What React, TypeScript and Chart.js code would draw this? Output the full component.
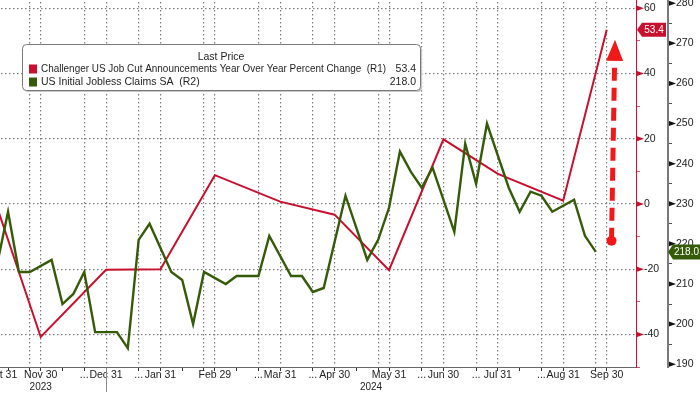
import React, { useEffect, useRef } from 'react';
import { Chart, registerables } from 'chart.js';

Chart.register(...registerables);

// ---------- DATA ----------
// Challenger US Job Cut Announcements, YoY % change (R1) – month-end dates
const monthEnds = [
  '2023-10-31', '2023-11-30', '2023-12-31', '2024-01-31', '2024-02-29', '2024-03-31',
  '2024-04-30', '2024-05-31', '2024-06-30', '2024-07-31', '2024-08-31', '2024-09-30',
];
const jobCutsYoY = [8.8, -40.8, -20.2, -20.0, 8.8, 0.7, -3.3, -20.3, 19.8, 9.2, 1.0, 53.4];

// US Initial Jobless Claims SA, thousands (R2) – weekly (Friday) dates
const weekDates = [
  '2023-10-27', '2023-11-03', '2023-11-10', '2023-11-17', '2023-11-24',
  '2023-12-01', '2023-12-08', '2023-12-15', '2023-12-22', '2023-12-29',
  '2024-01-05', '2024-01-12', '2024-01-19', '2024-01-26',
  '2024-02-02', '2024-02-09', '2024-02-16', '2024-02-23',
  '2024-03-01', '2024-03-08', '2024-03-15', '2024-03-22', '2024-03-29',
  '2024-04-05', '2024-04-12', '2024-04-19', '2024-04-26',
  '2024-05-03', '2024-05-10', '2024-05-17', '2024-05-24', '2024-05-31',
  '2024-06-07', '2024-06-14', '2024-06-21', '2024-06-28',
  '2024-07-05', '2024-07-12', '2024-07-19', '2024-07-26',
  '2024-08-02', '2024-08-09', '2024-08-16', '2024-08-23', '2024-08-30',
  '2024-09-06', '2024-09-13', '2024-09-20',
];
const joblessClaims = [
  218, 215, 228, 213, 213,
  216, 205, 207.5, 213, 198,
  198, 194, 221, 225,
  213, 211, 200, 213,
  210, 212, 212, 212, 222,
  212, 212, 208, 209,
  232, 224, 216, 221, 229,
  243, 238, 234, 239,
  223, 245, 235, 250,
  234, 228, 233, 232, 228,
  231, 222, 218,
];

// Axis tick dates / values
const gridWeeks = [
  '2023-11-24', '2023-12-22', '2024-01-19', '2024-02-23', '2024-03-22', '2024-04-19',
  '2024-05-24', '2024-06-21', '2024-07-19', '2024-08-23', '2024-09-20',
];
const minorWeeks = ['2023-11-10', '2023-12-08', '2024-02-09', '2024-03-08', '2024-05-10', '2024-08-09'];
const yearLabels = ['2023', '2024'];
const r1Ticks = [-50, -40, -30, -20, -10, 0, 10, 20, 30, 40, 50, 60];
const r2Ticks = [190, 195, 200, 205, 210, 215, 220, 225, 230, 235, 240, 245, 250, 255, 260, 265, 270, 275, 280];

const seriesNames = [
  'Challenger US Job Cut Announcements Year Over Year Percent Change  (R1)',
  'US Initial Jobless Claims SA  (R2)',
];

// Arrow annotation (R1 units)
const ARROW_FROM = -11.3;
const ARROW_TO = 50.3;

// ---------- STYLE ----------
const RED = '#c8102e';
const GREEN = '#355a08';
const ARROW = '#f01818';
const GRID = '#7c7c7c';
const TEXT = '#222222';
const AXIS_X = '#666666';
const AXIS_R2 = '#7a7a7a';
const FONT = '"Liberation Sans", Arial, sans-serif';
const NONE = 'rgba(0,0,0,0)';

const X_MIN = 2.26;
const X_MAX = 60.69;

const MONTHS = ['Jan', 'Feb', 'Mar', 'Apr', 'May', 'Jun', 'Jul', 'Aug', 'Sep', 'Oct', 'Nov', 'Dec'];
const slots = Array.from(new Set([...monthEnds, ...weekDates])).sort();
const slotIndex = (d: string) => slots.indexOf(d);
const fmt = (d: string) => `${MONTHS[parseInt(d.slice(5, 7), 10) - 1]} ${parseInt(d.slice(8, 10), 10)}`;

type XT = { value: number; lbl: string; kind: string };
function buildXTicks(): XT[] {
  const monthIdx = monthEnds.map(slotIndex);
  const out: XT[] = [];
  monthEnds.forEach((d) => out.push({ value: slotIndex(d), lbl: fmt(d), kind: 'month' }));
  gridWeeks.forEach((d) => {
    const v = slotIndex(d);
    const next = Math.min(...monthIdx.filter((m) => m >= v));
    out.push({ value: v, lbl: next - v >= 2 ? '...' : '', kind: 'week' });
  });
  minorWeeks.forEach((d) => out.push({ value: slotIndex(d), lbl: '', kind: 'minor' }));
  out.push({ value: X_MAX, lbl: '', kind: 'edge' });
  out.sort((a, b) => a.value - b.value);
  return out;
}

function tagPath(ctx: CanvasRenderingContext2D, left: number, right: number, y: number, h: number) {
  ctx.beginPath();
  ctx.moveTo(left, y);
  ctx.lineTo(left + 5, y - h / 2);
  ctx.lineTo(right, y - h / 2);
  ctx.lineTo(right, y + h / 2);
  ctx.lineTo(left + 5, y + h / 2);
  ctx.closePath();
}

function tri(ctx: CanvasRenderingContext2D, x: number, y: number, len: number, half: number) {
  ctx.beginPath();
  ctx.moveTo(x, y - half);
  ctx.lineTo(x + len, y);
  ctx.lineTo(x, y + half);
  ctx.closePath();
  ctx.fill();
}

function rect(ctx: CanvasRenderingContext2D, x: number, y: number, w: number, h: number, color: string) {
  ctx.save();
  ctx.fillStyle = color;
  ctx.fillRect(x, y, w, h);
  ctx.restore();
}

const overlayPlugin = {
  id: 'bbgOverlay',
  beforeDatasetsDraw(chart: any) {
    const ctx: CanvasRenderingContext2D = chart.ctx;
    const area = chart.chartArea;
    const xs = chart.scales.x;
    const r1 = chart.scales.y1;
    ctx.save();
    ctx.fillStyle = GRID;
    // horizontal dotted grid at R1 major ticks
    r1Ticks.filter((v) => v % 20 === 0).forEach((v) => {
      const y = Math.round(r1.getPixelForValue(v) - 0.5);
      for (let x = Math.ceil(area.left) + 1; x < area.right - 1; x += 4) ctx.fillRect(x, y, 1.5, 1.2);
    });
    // vertical dotted grid at month-end and weekly grid ticks
    buildXTicks()
      .filter((t) => t.kind === 'month' || t.kind === 'week')
      .forEach((t) => {
        const px = xs.getPixelForValue(t.value);
        if (px < area.left || px > area.right) return;
        const x = Math.round(px - 0.5);
        for (let y = Math.ceil(area.top) + 2; y < area.bottom - 1; y += 4) ctx.fillRect(x, y, 1.2, 1.5);
      });
    ctx.restore();
  },
  afterDatasetsDraw(chart: any) {
    const ctx: CanvasRenderingContext2D = chart.ctx;
    const xs = chart.scales.x;
    const r1 = chart.scales.y1;
    const last = slotIndex(monthEnds[monthEnds.length - 1]);
    const x0 = xs.getPixelForValue(last + 0.44);
    const y0 = r1.getPixelForValue(ARROW_FROM);
    const x1 = xs.getPixelForValue(last + 0.76);
    const y1 = r1.getPixelForValue(ARROW_TO);
    const dx = x1 - x0, dy = y1 - y0;
    const len = Math.hypot(dx, dy);
    const ux = dx / len, uy = dy / len;
    const headLen = 21, headHalf = 8.5;
    const bx = x1 - ux * headLen, by = y1 - uy * headLen;
    ctx.save();
    ctx.strokeStyle = ARROW;
    ctx.fillStyle = ARROW;
    ctx.lineWidth = 5;
    ctx.setLineDash([13, 7]);
    ctx.beginPath();
    ctx.moveTo(x0, y0);
    ctx.lineTo(bx, by);
    ctx.stroke();
    ctx.setLineDash([]);
    ctx.beginPath();
    ctx.arc(x0, y0, 5, 0, Math.PI * 2);
    ctx.fill();
    ctx.beginPath();
    ctx.moveTo(x1, y1);
    ctx.lineTo(bx - uy * headHalf, by + ux * headHalf);
    ctx.lineTo(bx + uy * headHalf, by - ux * headHalf);
    ctx.closePath();
    ctx.fill();
    ctx.restore();
  },
  afterDraw(chart: any) {
    const ctx: CanvasRenderingContext2D = chart.ctx;
    const area = chart.chartArea;
    const xs = chart.scales.x;
    const r1 = chart.scales.y1;
    const r2 = chart.scales.y2;
    ctx.save();
    const top = Math.round(area.top);
    const bottom = Math.round(area.bottom);

    // x axis line and tick marks
    rect(ctx, Math.round(area.left), bottom, Math.round(area.right - area.left), 1, AXIS_X);
    buildXTicks()
      .filter((t) => t.kind !== 'edge')
      .forEach((t) => {
        const px = xs.getPixelForValue(t.value);
        if (px < area.left || px > area.right) return;
        rect(ctx, Math.round(px - 0.5), bottom + 1, 1, 3, '#333333');
      });

    // R1 axis (red)
    const rx = Math.round(r1.left);
    rect(ctx, rx, top, 1, bottom - top + 1, RED);
    r1Ticks.forEach((v) => {
      const y = r1.getPixelForValue(v);
      if (v % 20 === 0) {
        ctx.fillStyle = RED;
        tri(ctx, rx + 1, y, 7, 2.5);
      } else {
        rect(ctx, rx + 1, Math.round(y - 0.5), 3, 1, 'rgba(200,16,46,0.7)');
      }
    });

    // R2 axis (grey)
    const gx = Math.round(r2.left);
    rect(ctx, gx, top, 2, bottom - top + 1, AXIS_R2);
    r2Ticks.forEach((v) => {
      const y = r2.getPixelForValue(v);
      if (v % 10 === 0) {
        ctx.fillStyle = '#111111';
        tri(ctx, gx + 2, y, 7, 2.5);
      } else {
        rect(ctx, gx + 2, Math.round(y - 0.5), 3, 1, '#555555');
      }
    });

    // year divider and labels
    const divX = Math.round(xs.getPixelForValue(slotIndex('2023-12-31')) - 0.5);
    rect(ctx, divX, bottom + 1, 1, 24, '#8a8a8a');
    ctx.fillStyle = TEXT;
    ctx.font = `10px ${FONT}`;
    ctx.textAlign = 'center';
    ctx.textBaseline = 'middle';
    ctx.fillText(yearLabels[0], xs.getPixelForValue(slotIndex('2023-11-30')), bottom + 20);
    ctx.fillText(yearLabels[1], (divX + area.right) / 2, bottom + 20);

    // last value tags
    const lastR1 = jobCutsYoY[jobCutsYoY.length - 1];
    const lastR2 = joblessClaims[joblessClaims.length - 1];
    const ty1 = r1.getPixelForValue(lastR1);
    tagPath(ctx, r1.left + 1, r2.left - 1, ty1, 14);
    ctx.fillStyle = RED;
    ctx.fill();
    const ty2 = r2.getPixelForValue(lastR2);
    tagPath(ctx, r2.left + 1, chart.width, ty2, 15);
    ctx.fillStyle = GREEN;
    ctx.fill();
    ctx.fillStyle = '#ffffff';
    ctx.font = `10px ${FONT}`;
    ctx.textAlign = 'center';
    ctx.fillText(lastR1.toFixed(1), (r1.left + 6 + r2.left - 1) / 2, ty1 + 0.5);
    ctx.fillText(lastR2.toFixed(1), (r2.left + 6 + chart.width) / 2, ty2 + 0.5);

    // legend
    const bx = 22.5, by = 44.5, bw = 398, bh = 46;
    ctx.fillStyle = '#c8c8c8';
    ctx.beginPath();
    ctx.roundRect(bx + 1.5, by + 1.5, bw, bh, 4);
    ctx.fill();
    ctx.fillStyle = '#ffffff';
    ctx.strokeStyle = '#7a7a7a';
    ctx.lineWidth = 1;
    ctx.beginPath();
    ctx.roundRect(bx, by, bw, bh, 4);
    ctx.fill();
    ctx.stroke();

    ctx.fillStyle = '#1e1e1e';
    ctx.font = `10.5px ${FONT}`;
    ctx.textAlign = 'center';
    ctx.textBaseline = 'middle';
    ctx.fillText('Last Price', 221, 57);
    const rows = [
      { color: RED, name: seriesNames[0], value: lastR1.toFixed(1), y: 69 },
      { color: GREEN, name: seriesNames[1], value: lastR2.toFixed(1), y: 82 },
    ];
    rows.forEach((r) => {
      ctx.fillStyle = r.color;
      ctx.fillRect(29, r.y - 4.5, 8, 9);
      ctx.fillStyle = '#1e1e1e';
      ctx.textAlign = 'left';
      ctx.fillText(r.name, 41, r.y, 345);
      ctx.textAlign = 'right';
      ctx.fillText(r.value, 416, r.y);
    });
    ctx.restore();
  },
};

export default function App() {
  const ref = useRef<HTMLCanvasElement | null>(null);

  useEffect(() => {
    document.body.style.margin = '0';
    const canvas = ref.current;
    if (!canvas) return;

    const redData = monthEnds.map((d, i) => ({ x: slotIndex(d), y: jobCutsYoY[i] }));
    const greenData = weekDates.map((d, i) => ({ x: slotIndex(d), y: joblessClaims[i] }));
    const tickFont = { family: FONT, size: 10.5 };
    const hiddenGrid = { display: true, drawOnChartArea: false, color: NONE, tickColor: NONE };

    const chart = new Chart(canvas, {
      type: 'line',
      data: {
        datasets: [
          { label: seriesNames[0], data: redData, yAxisID: 'y1', borderColor: RED, borderWidth: 2, pointRadius: 0, tension: 0, order: 2 },
          { label: seriesNames[1], data: greenData, yAxisID: 'y2', borderColor: GREEN, borderWidth: 2.4, pointRadius: 0, tension: 0, order: 1 },
        ],
      },
      options: {
        animation: false,
        responsive: false,
        devicePixelRatio: 1,
        events: [],
        layout: { padding: 0 },
        plugins: { legend: { display: false }, tooltip: { enabled: false } },
        scales: {
          x: {
            type: 'linear',
            min: X_MIN,
            max: X_MAX,
            afterBuildTicks: (axis: any) => { axis.ticks = buildXTicks(); },
            afterFit: (axis: any) => { axis.height = 27; axis.paddingLeft = 0; axis.paddingRight = 0; },
            ticks: {
              autoSkip: false, maxRotation: 0, minRotation: 0, align: 'inner', padding: 0, color: TEXT,
              font: { ...tickFont, lineHeight: 0.9 },
              callback: (_v: any, i: number, ticks: any[]) => (ticks[i] && ticks[i].lbl) || '',
            },
            grid: { ...hiddenGrid, tickLength: 3 },
            border: { display: false },
          },
          y1: {
            type: 'linear', position: 'right', weight: 0, min: -50, max: 62.5,
            afterBuildTicks: (axis: any) => { axis.ticks = r1Ticks.map((v) => ({ value: v })); },
            afterFit: (axis: any) => { axis.width = 31; axis.paddingTop = 0; axis.paddingBottom = 0; },
            ticks: { padding: 1, color: TEXT, font: tickFont, callback: (v: any) => (Number(v) % 20 === 0 ? String(v) : '') },
            grid: { ...hiddenGrid, tickLength: 7 },
            border: { display: false },
          },
          y2: {
            type: 'linear', position: 'right', weight: 1, min: 189.3, max: 280.8,
            afterBuildTicks: (axis: any) => { axis.ticks = r2Ticks.map((v) => ({ value: v })); },
            afterFit: (axis: any) => { axis.width = 33; axis.paddingTop = 0; axis.paddingBottom = 0; },
            ticks: { padding: 1, color: TEXT, font: tickFont, callback: (v: any) => (Number(v) % 10 === 0 ? String(v) : '') },
            grid: { ...hiddenGrid, tickLength: 8 },
            border: { display: false },
          },
        },
      } as any,
      plugins: [overlayPlugin],
    });

    return () => chart.destroy();
  }, []);

  return (
    <div style={{ position: 'fixed', left: 0, top: 0, width: 700, height: 394, background: '#ffffff' }}>
      <canvas ref={ref} width={700} height={394} style={{ display: 'block', width: 700, height: 394 }} />
    </div>
  );
}
